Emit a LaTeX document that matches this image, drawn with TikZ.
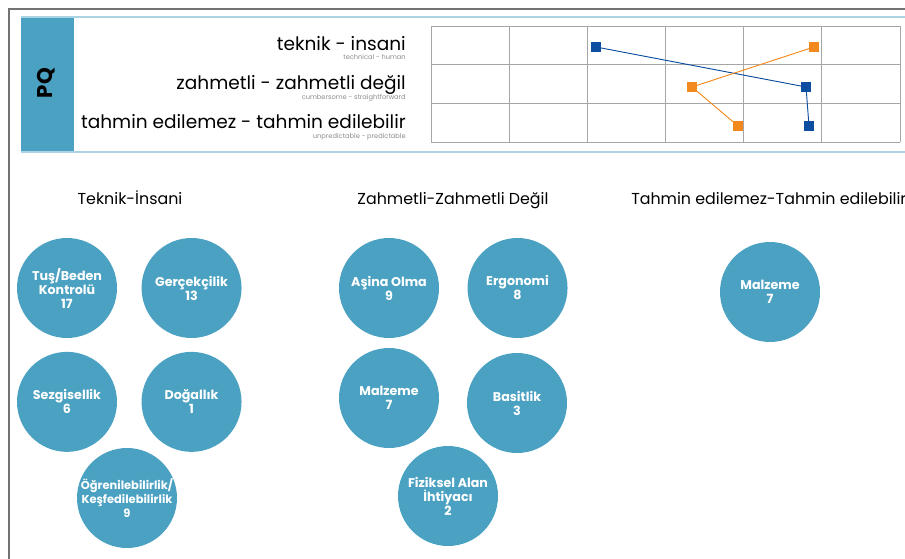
\documentclass[tikz,border=0pt]{standalone}
\usepackage{fontspec}
\setmainfont{Poppins}
\usepackage{tikz}
\usetikzlibrary{positioning,calc}
\definecolor{pqblue}{RGB}{75,161,193}
\definecolor{pqline}{RGB}{170,211,228}
\definecolor{ptblue}{RGB}{14,78,160}
\definecolor{ptorange}{RGB}{242,137,30}
\tikzset{
  frameline/.style={draw=black!55,line width=1.5pt},
  bandline/.style={draw=pqline,line width=1.2pt},
  pairlabel/.style={anchor=base east,inner sep=0pt,font=\fontsize{13.9}{14}\selectfont},
  pairsub/.style={anchor=base east,inner sep=0pt,text=black!45,font=\fontsize{5}{6}\selectfont},
  gridline/.style={draw=black!35,line width=0.6pt},
  bluept/.style={rectangle,fill=ptblue,minimum size=7pt,inner sep=0pt},
  orangept/.style={rectangle,fill=ptorange,minimum size=7pt,inner sep=0pt},
  blueconn/.style={draw=ptblue,line width=0.7pt},
  orangeconn/.style={draw=ptorange,line width=0.7pt},
  grouptitle/.style={anchor=base,inner sep=0pt,font=\fontsize{11.9}{13}\selectfont},
  catcircle/.style={circle,fill=pqblue,text=white,minimum size=75pt,inner sep=0pt,
    align=center,font=\bfseries\fontsize{9.5}{10.5}\selectfont},
  catwide/.style={catcircle,inner sep=-12pt,font=\bfseries\fontsize{8.6}{10.5}\selectfont},
}

\begin{document}
\begin{tikzpicture}[x=0.75pt,y=-0.75pt,node distance=18pt]
  \useasboundingbox (0,0) rectangle (905,559);
  % outer frame
  \draw[frameline] (9,559) -- (9,9) -- (905,9);
  % header band
  \draw[bandline] (21,17) -- (905,17);
  \draw[bandline] (21,152) -- (905,152);
  \fill[pqblue] (21,18) rectangle (74,151);
  \node[rotate=90,font=\bfseries\fontsize{16}{18}\selectfont] (pq) at (46,83) {PQ};

  % scale labels
  \node[pairlabel] (l1) at (406,51)  {teknik - insani};
  \node[pairsub]   (s1) at (406,60)  {technical - human};
  \node[pairlabel] (l2) at (406,90)  {zahmetli - zahmetli değil};
  \node[pairsub]   (s2) at (406,99.5)  {cumbersome - straightforward};
  \node[pairlabel] (l3) at (406,129) {tahmin edilemez - tahmin edilebilir};
  \node[pairsub]   (s3) at (406,138.5) {unpredictable - predictable};

  % chart grid
  \foreach \x in {431,509.2,587.3,665.5,743.7,821.8,900}
    \draw[gridline] (\x,26) -- (\x,142);
  \foreach \y in {26,64.7,103.3,142}
    \draw[gridline] (431,\y) -- (900,\y);

  % chart points
  \node[bluept]   (b1) at (596,47)  {};
  \node[bluept]   (b2) at (806,87)  {};
  \node[bluept]   (b3) at (809,126) {};
  \node[orangept] (o1) at (814,47)  {};
  \node[orangept] (o2) at (692,87)  {};
  \node[orangept] (o3) at (738,126) {};
  \draw[blueconn]   (b1) -- (b2) -- (b3);
  \draw[orangeconn] (o1) -- (o2) -- (o3);

  % group titles
  \node[grouptitle] (g1) at (130,205) {Teknik-İnsani};
  \node[grouptitle] (g2) at (453,205) {Zahmetli-Zahmetli Değil};
  \node[grouptitle,anchor=base west] (g3) at (631,205) {Tahmin edilemez-Tahmin edilebilir};

  % Teknik-Insani
  \node[catcircle] (tus) at (67,288) {Tuş/Beden\\Kontrolü\\17};
  \node[catcircle,right=of tus] (gercek) {Gerçekçilik\\13};
  \node[catcircle,below=of tus,yshift=8pt] (sezgi) {Sezgisellik\\6};
  \node[catcircle,right=of sezgi] (dogal) {Doğallık\\1};
  \node[catwide] (ogren) at (127,498) {Öğrenilebilirlik/\\Keşfedilebilirlik\\9};

  % Zahmetli-Zahmetli Degil
  \node[catcircle] (asina) at (389,288) {Aşina Olma\\9};
  \node[catcircle,right=21pt of asina] (ergo) {Ergonomi\\8};
  \node[catcircle] (malz) at (389,398) {Malzeme\\7};
  \node[catcircle] (basit) at (517,403) {Basitlik\\3};
  \node[catcircle] (fizik) at (448,496) {Fiziksel Alan\\İhtiyacı\\2};

  % Tahmin edilemez-Tahmin edilebilir
  \node[catcircle] (malzt) at (770,292) {Malzeme\\7};
\end{tikzpicture}
\end{document}
